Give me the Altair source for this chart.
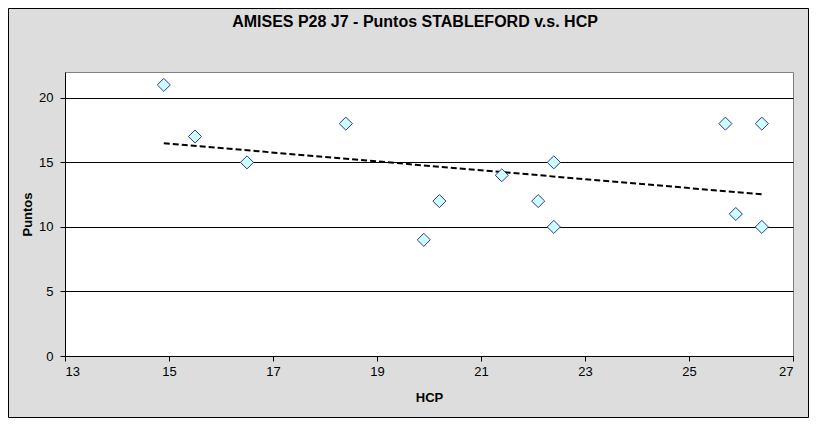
import altair as alt
import pandas as pd

# Data
hcp = [14.9, 15.5, 16.5, 18.4, 19.9, 20.2, 21.4, 22.1, 22.4, 22.4, 25.7, 25.9, 26.4, 26.4]
puntos = [21, 17, 15, 18, 9, 12, 14, 12, 15, 10, 18, 11, 18, 10]
x_ticks = [13, 15, 17, 19, 21, 23, 25, 27]
y_ticks = [0, 5, 10, 15, 20]
title_text = "AMISES P28 J7 - Puntos STABLEFORD v.s. HCP"

df = pd.DataFrame({"HCP": hcp, "Puntos": puntos})
one = pd.DataFrame({"t": [title_text]})

W, H = 728, 284
PL, PT, PR, PB = 57, 64, 16, 62
FONT = "Arial"

xs = alt.Scale(domain=[13, 27], nice=False, zero=False)
ys = alt.Scale(domain=[0, 22], nice=False, zero=False)

x_enc = alt.X("HCP:Q", scale=xs,
              axis=alt.Axis(values=x_ticks, title="HCP", grid=False, tickSize=5,
                            labelPadding=4, titlePadding=13, format="d"))
y_enc = alt.Y("Puntos:Q", scale=ys,
              axis=alt.Axis(values=y_ticks, title="Puntos", grid=True, tickSize=5,
                            labelPadding=7, titlePadding=4, format="d"))

base = alt.Chart(df)

border = alt.Chart(one).mark_rect(fillOpacity=0, stroke="black", strokeWidth=1).encode(
    x=alt.value(-PL + 0.5), x2=alt.value(W + PR - 0.5),
    y=alt.value(-PT + 0.5), y2=alt.value(H + PB - 0.5))

title = alt.Chart(one).mark_text(font=FONT, fontSize=16, fontWeight="bold", color="black",
                                 align="center", baseline="alphabetic").encode(
    x=alt.value(350), y=alt.value(-45), text="t:N")

trend = base.transform_regression("HCP", "Puntos").mark_line(
    color="black", strokeWidth=2, strokeDash=[6, 3]).encode(x=x_enc, y=y_enc)

points = base.mark_point(shape="diamond", filled=True, fill="#CCFFFF", stroke="#333399",
                         strokeWidth=1, size=170, opacity=1).encode(x=x_enc, y=y_enc)

chart = alt.layer(border, title, trend, points).properties(
    width=W, height=H,
    autosize=alt.AutoSizeParams(type="none"),
    padding={"left": PL, "top": PT, "right": PR, "bottom": PB},
    background="#DDDDDD",
).configure_view(fill="white", stroke="#808080", strokeWidth=1).configure_axis(
    domainColor="black", tickColor="black", labelColor="black", titleColor="black",
    labelFont=FONT, titleFont=FONT, labelFontSize=13, titleFontSize=13,
    titleFontWeight="bold", gridColor="black", gridWidth=1, domainWidth=1, tickWidth=1,
)

chart.save("out.html", embed_options={"renderer": "svg", "actions": False})
